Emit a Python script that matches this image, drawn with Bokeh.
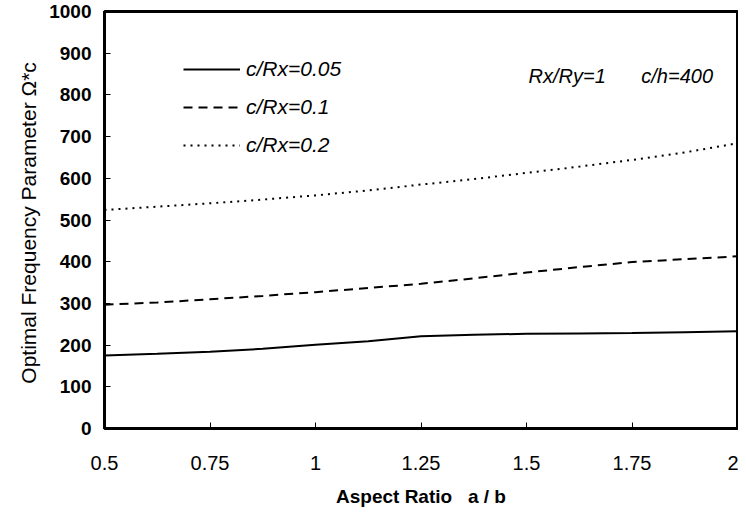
from bokeh.plotting import figure
from bokeh.models import Legend, LegendItem, Range1d, FixedTicker, Label
from bokeh.embed import file_html
from bokeh.resources import INLINE

aspect = [0.5, 0.625, 0.75, 0.875, 1.0, 1.125, 1.25, 1.375, 1.5, 1.625, 1.75, 1.875, 2.0]
omega_005 = [175, 179, 184, 191, 201, 209, 221, 225, 227, 228, 229, 231, 233]
omega_01 = [297, 302, 310, 318, 327, 337, 347, 360, 374, 387, 399, 406, 413]
omega_02 = [524, 532, 540, 549, 559, 571, 585, 598, 613, 628, 644, 662, 684]
series_labels = ["c/Rx=0.05", "c/Rx=0.1", "c/Rx=0.2"]
x_ticks = [0.5, 0.75, 1.0, 1.25, 1.5, 1.75, 2.0]
x_tick_labels = {0.5: "0.5", 0.75: "0.75", 1.0: "1", 1.25: "1.25", 1.5: "1.5", 1.75: "1.75", 2.0: "2"}
y_ticks = list(range(0, 1001, 100))

NARROW = "'Liberation Sans Narrow', 'Arial Narrow', 'Liberation Sans', sans-serif"
SANS = "'Liberation Sans', Arial, sans-serif"

p = figure(output_backend="svg", toolbar_location=None,
           frame_width=633, frame_height=417,
           min_border_left=104, min_border_right=1, min_border_top=11, min_border_bottom=76,
           x_range=Range1d(0.5, 2.0), y_range=Range1d(0, 1000))
p.grid.visible = False
p.background_fill_color = "white"
p.border_fill_color = "white"
p.outline_line_color = "black"
p.outline_line_width = 3

for ax in (p.xaxis[0], p.yaxis[0]):
    ax.axis_line_width = 3
    ax.axis_line_color = "black"
    ax.major_tick_in = 6
    ax.major_tick_out = 0
    ax.minor_tick_in = 0
    ax.minor_tick_out = 0
    ax.major_tick_line_width = 1
    ax.axis_label_text_color = "black"

p.xaxis.ticker = FixedTicker(ticks=x_ticks)
p.xaxis.major_label_overrides = x_tick_labels
p.xaxis.major_label_text_font = NARROW
p.xaxis.major_label_text_font_size = "20px"
p.xaxis.major_label_text_color = "black"
p.xaxis.major_label_standoff = 27
p.xaxis.axis_label = "Aspect Ratio\u00a0\u00a0\u00a0a\u00a0/\u00a0b"
p.xaxis.axis_label_text_font = NARROW
p.xaxis.axis_label_text_font_size = "19px"
p.xaxis.axis_label_text_font_style = "bold"
p.xaxis.axis_label_standoff = 13

p.yaxis.ticker = FixedTicker(ticks=y_ticks)
p.yaxis.major_label_text_font = NARROW
p.yaxis.major_label_text_font_size = "19px"
p.yaxis.major_label_text_font_style = "bold"
p.yaxis.major_label_text_color = "black"
p.yaxis.major_label_standoff = 13
p.yaxis.axis_label = "Optimal Frequency Parameter  \u03a9*c"
p.yaxis.axis_label_text_font = SANS
p.yaxis.axis_label_text_font_size = "21px"
p.yaxis.axis_label_text_font_style = "normal"
p.yaxis.axis_label_standoff = 6

r1 = p.line(aspect, omega_005, line_color="black", line_width=2)
r2 = p.line(aspect, omega_01, line_color="black", line_width=2, line_dash="9 6")
r3 = p.line(aspect, omega_02, line_color="black", line_width=2, line_dash="2 5")

legend = Legend(items=[LegendItem(label=series_labels[0], renderers=[r1]),
                       LegendItem(label=series_labels[1], renderers=[r2]),
                       LegendItem(label=series_labels[2], renderers=[r3])],
                location=(79, 271), orientation="vertical",
                glyph_width=57, glyph_height=22, spacing=14, label_standoff=6,
                padding=0, margin=0, border_line_color=None, background_fill_alpha=0,
                label_text_font=SANS, label_text_font_style="italic",
                label_text_font_size="21px", label_text_color="black")
p.add_layout(legend, "center")

p.add_layout(Label(x=1.505, y=845, text="Rx/Ry=1", text_font=SANS, text_font_style="italic",
                   text_font_size="20px", text_baseline="middle", text_color="black"))
p.add_layout(Label(x=1.772, y=845, text="c/h=400", text_font=SANS, text_font_style="italic",
                   text_font_size="20px", text_baseline="middle", text_color="black"))

open("out.html", "w").write(file_html(p, INLINE))
